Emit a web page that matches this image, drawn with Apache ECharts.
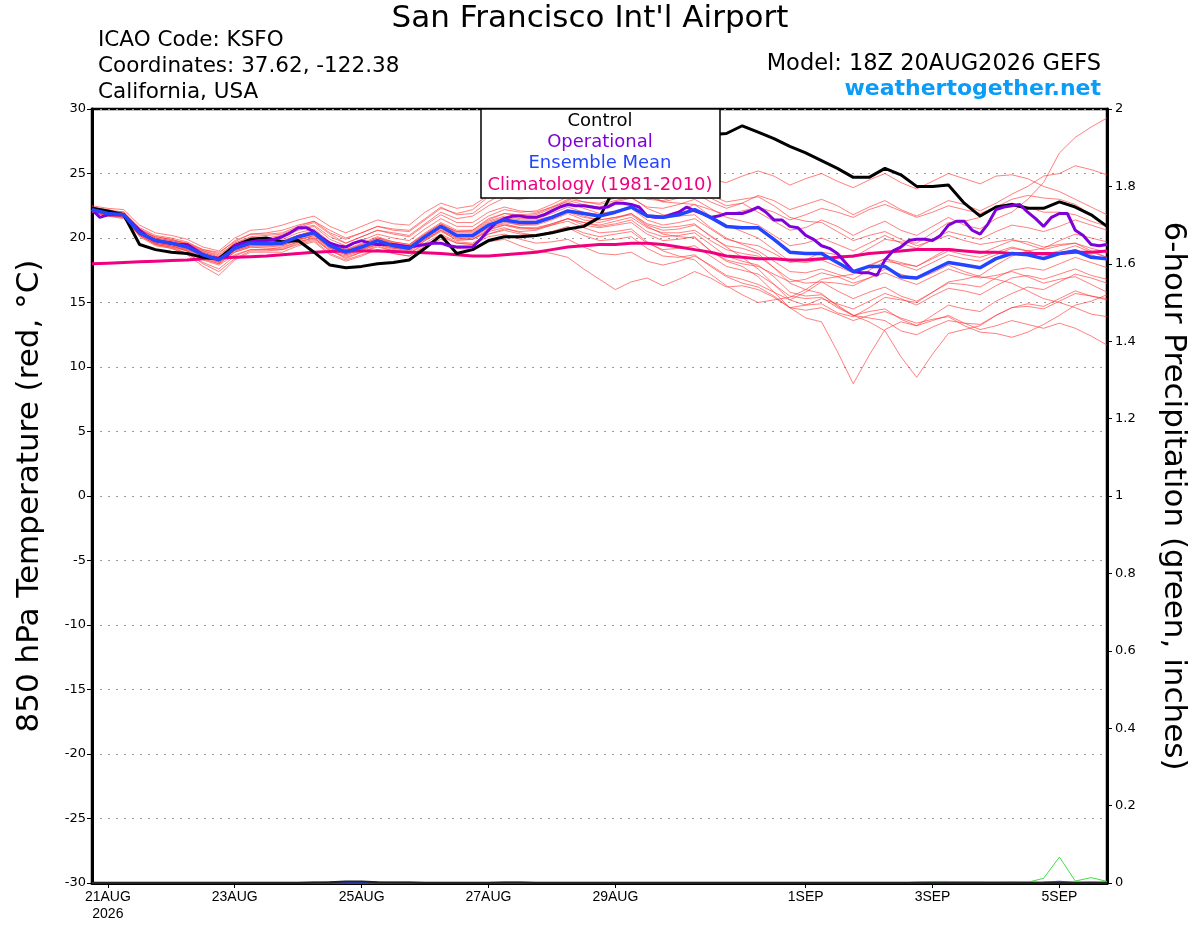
<!DOCTYPE html>
<html>
<head>
<meta charset="utf-8">
<script src="https://cdn.jsdelivr.net/npm/echarts@6/dist/echarts.min.js"></script>
<style>
html,body{margin:0;padding:0;background:#fff;}
#chart{width:1200px;height:927px;}
</style>
</head>
<body>
<div id="chart"></div>
<script>
// ---- time axis (hours after 18Z 20AUG2026) ----
const stepHours = 6;          // ensemble / control / mean step
const opStepHours = 3;        // operational step
const tickHours = [6, 54, 102, 150, 198, 270, 318, 366];
const tickLabels = ['21AUG\n2026', '23AUG', '25AUG', '27AUG', '29AUG', '1SEP', '3SEP', '5SEP'];

// ---- 850 hPa temperature (deg C) ----
const control = [22.3,22.1,21.8,19.5,19.1,18.9,18.8,18.5, 18.4,19.4,19.9,20.0,19.7,19.8,18.9,17.9,
  17.7,17.8,18.0,18.1,18.3,19.2,20.2,18.8, 19.1,19.8,20.1,20.1,20.2,20.4,20.7,20.9,
  21.6,24.0,25.5,26.5,27.2,27.6,27.8,28.0, 28.1,28.7,28.2,27.7,27.1,26.6,26.0,25.4,
  24.7,24.7,25.4,24.9,24.0,24.0,24.1,22.7, 21.7,22.4,22.6,22.3,22.3,22.8,22.4,21.8, 20.9];

const operational = [22.2,21.6,21.8,21.8,21.8,21.2,20.6,20.1,19.8,19.7,19.6,19.5,19.5,19.1,18.7,18.5,
  18.4,18.6,19.4,19.6,19.7,19.8,19.8,19.9,20.1,20.4,20.8,20.8,20.5,20.0,19.6,19.4,
  19.3,19.6,19.8,19.6,19.5,19.5,19.5,19.4,19.3,19.4,19.5,19.6,19.6,19.4,19.3,19.3,
  19.3,19.9,20.6,21.2,21.5,21.7,21.7,21.6,21.6,21.8,22.1,22.4,22.6,22.5,22.5,22.4,
  22.3,22.4,22.7,22.7,22.6,22.4,21.7,21.6,21.6,21.8,22.0,22.4,22.1,21.9,21.6,21.7,
  21.9,21.9,21.9,22.1,22.4,22.0,21.4,21.4,20.9,20.8,20.2,19.9,19.4,19.2,18.8,18.1,
  17.4,17.3,17.3,17.1,18.3,19.0,19.3,19.8,19.9,19.9,19.8,20.2,21.0,21.3,21.3,20.6,
  20.3,21.1,22.2,22.4,22.5,22.6,22.0,21.5,20.9,21.6,21.9,21.9,20.6,20.2,19.5,19.4, 19.5];

const ensembleMean = [22.2,21.9,21.8,20.4,19.8,19.6,19.3,18.7, 18.3,19.2,19.6,19.6,19.6,20.1,20.4,19.4,
  18.9,19.3,19.8,19.4,19.2,20.1,20.9,20.2, 20.2,21.0,21.4,21.2,21.2,21.6,22.1,21.9,
  21.7,22.0,22.4,21.7,21.6,21.8,22.2,21.6, 20.9,20.8,20.8,19.9,18.9,18.8,18.8,18.1,
  17.4,17.8,17.8,17.0,16.9,17.5,18.1,17.9, 17.7,18.4,18.8,18.7,18.4,18.8,19.0,18.5, 18.4];

const climatology = [18.0,18.05,18.1,18.15,18.2,18.25,18.3,18.4, 18.45,18.5,18.55,18.6,18.7,18.8,18.9,18.95,
  19.0,19.0,19.0,18.95,18.9,18.85,18.8,18.7, 18.6,18.6,18.7,18.8,18.9,19.1,19.3,19.4,
  19.5,19.5,19.6,19.6,19.5,19.3,19.1,18.9, 18.6,18.5,18.4,18.4,18.3,18.3,18.4,18.5,
  18.6,18.8,18.9,19.0,19.1,19.1,19.1,19.0, 18.9,18.9,18.8,18.8,18.8,18.8,18.9,18.9, 19.0];

const m01 = [22.4,22.2,22.0,20.6,20.1,19.9,19.5,19.0, 18.6,19.6,20.1,20.2,20.3,20.8,21.2,20.3, 19.6,20.1,20.6,20.4,20.2,21.1,22.0,21.5, 21.7,22.5,23.1,23.0,23.2,23.6,24.3,24.0, 23.8,24.1,24.5,23.8,23.3,23.6,24.0,23.1, 22.5,22.7,22.0,21.3,20.6,20.8,21.4,20.9, 20.2,20.8,21.3,20.6,20.2,20.9,21.6,21.0, 20.7,21.5,22.0,23.0,24.3,26.6,27.8,28.6, 29.3];
const m02 = [22.3,22.0,21.9,20.7,20.0,19.8,19.6,19.1, 18.9,19.7,20.3,20.4,20.6,21.0,21.3,20.6, 20.0,20.4,20.9,20.7,20.6,21.5,22.4,21.8, 21.9,22.8,23.5,23.3,23.1,23.9,24.6,24.2, 23.6,23.9,24.2,23.2,22.8,23.1,23.5,22.8, 22.3,22.7,23.3,22.9,22.2,22.6,23.0,22.5, 21.8,22.4,22.9,22.2,21.7,22.3,22.9,22.6, 22.1,22.7,23.4,24.0,24.8,25.0,25.6,25.3, 24.9];
const m03 = [22.5,22.3,22.2,21.0,20.4,20.2,19.9,19.3, 19.0,20.0,20.6,20.7,21.0,21.4,21.7,20.9, 20.4,20.9,21.4,21.1,21.0,22.0,22.7,22.3, 22.5,23.3,23.9,23.8,24.0,24.6,25.3,24.9, 24.6,24.9,25.2,24.4,24.1,24.6,25.1,24.5, 24.3,24.8,25.2,24.8,24.1,24.6,25.0,24.4, 23.9,24.5,25.0,24.3,23.8,24.4,25.0,24.6, 24.2,24.8,24.9,24.6,24.0,23.6,23.0,22.4, 21.8];
const m04 = [22.1,21.8,21.6,20.1,19.4,19.2,18.8,18.0, 17.4,18.4,19.0,19.0,19.1,19.5,19.8,18.8, 18.3,18.7,19.1,18.8,18.6,19.4,20.2,19.6, 19.5,20.3,20.7,20.5,20.6,21.0,21.5,21.0, 20.8,21.0,21.2,20.3,19.8,19.9,20.1,19.0, 18.2,17.8,17.0,15.8,14.6,13.8,13.5,11.2, 8.7,10.9,12.9,13.5,13.2,14.0,14.8,14.5, 14.3,15.1,15.7,16.2,16.0,16.6,17.2,16.9, 16.5];
const m05 = [22.2,21.9,21.7,20.3,19.6,19.4,19.0,18.4, 18.0,18.9,19.3,19.2,19.2,19.7,20.0,19.0, 18.6,19.0,19.5,19.2,19.0,19.8,20.6,19.8, 19.9,20.6,21.0,20.7,20.7,21.1,21.5,21.2, 20.9,21.1,21.4,20.5,20.1,20.2,20.4,19.5, 18.6,18.2,17.9,17.0,15.8,15.5,15.6,14.8, 14.0,13.5,12.8,10.8,9.2,11.0,12.6,12.9, 13.2,14.0,14.6,14.9,14.7,15.3,15.9,15.5, 15.3];
const m06 = [22.0,21.7,21.5,20.2,19.5,19.3,18.8,18.1, 17.6,18.6,19.1,19.1,19.3,19.7,20.0,19.1, 18.4,18.9,19.4,19.0,18.8,19.6,20.3,19.7, 19.6,20.3,20.6,20.3,20.2,20.5,20.9,20.4, 20.1,20.3,20.5,19.6,19.1,19.2,19.4,18.6, 17.8,17.5,17.2,16.4,15.5,15.3,15.4,14.6, 14.0,14.3,14.5,13.7,13.2,13.6,14.0,13.4, 12.9,13.2,13.6,13.3,13.0,13.4,13.0,12.4, 11.7];
const m07 = [22.3,22.0,21.8,20.5,19.7,19.5,19.1,18.6, 18.2,19.1,19.5,19.4,19.5,20.0,20.3,19.3, 18.8,19.2,19.6,19.2,19.1,19.9,20.7,20.0, 19.9,20.5,20.8,20.4,20.2,20.5,20.8,20.2, 19.8,19.9,20.1,19.2,18.6,18.5,18.7,17.8, 17.0,16.5,16.2,15.5,14.6,14.4,14.6,14.1, 13.6,14.0,14.3,13.8,13.4,13.7,13.9,13.2, 12.7,12.6,12.3,12.7,13.3,14.0,14.8,15.1, 15.6];
const m08 = [22.1,21.8,21.7,20.2,19.5,19.2,18.7,17.8, 17.1,18.3,18.9,18.9,18.9,19.4,19.7,18.7, 18.2,18.6,19.1,18.8,18.6,19.3,19.9,19.2, 19.1,19.7,19.9,19.4,19.0,18.8,18.5,17.6, 16.8,16.0,16.6,16.9,16.3,16.8,17.4,16.9, 16.2,16.3,16.0,15.4,14.6,14.8,15.3,14.9, 14.5,15.1,15.7,15.3,14.8,15.5,16.1,15.9, 15.6,16.3,16.9,17.1,16.8,17.2,17.6,17.1, 16.8];
const m09 = [22.2,22.0,21.9,20.6,20.0,19.8,19.5,18.9, 18.5,19.4,19.8,19.8,19.9,20.4,20.7,19.7, 19.1,19.6,20.1,19.7,19.5,20.4,21.2,20.6, 20.6,21.5,21.9,21.7,21.8,22.3,22.9,22.6, 22.4,22.8,23.1,22.4,22.3,22.6,23.0,22.3, 21.6,21.3,21.0,20.2,19.4,19.6,20.0,19.5, 19.0,19.6,20.2,19.6,19.2,19.9,20.5,20.2, 19.9,20.5,21.0,20.8,20.5,20.9,21.4,21.0, 20.6];
const m10 = [22.2,21.9,21.8,20.4,19.7,19.5,19.2,18.6, 18.1,19.0,19.4,19.4,19.4,19.9,20.1,19.2, 18.7,19.1,19.5,19.1,18.9,19.8,20.5,19.9, 19.9,20.7,21.0,20.8,20.8,21.1,21.5,21.2, 21.0,21.3,21.6,20.8,20.4,20.4,20.6,19.8, 19.1,18.8,18.6,17.7,16.8,16.5,16.6,15.9, 15.3,15.8,16.2,15.5,15.1,15.8,16.5,16.4, 16.2,16.9,17.5,17.7,17.5,18.0,18.5,18.1, 17.7];
const m11 = [22.4,22.1,22.0,20.8,20.2,20.0,19.7,19.1, 18.8,19.8,20.3,20.3,20.4,20.9,21.3,20.4, 19.9,20.4,20.9,20.6,20.5,21.4,22.3,21.9, 22.2,23.2,23.8,23.7,23.8,24.4,25.0,24.7, 24.2,24.4,24.6,23.5,22.8,22.7,22.6,21.7, 21.0,20.5,20.0,19.1,18.2,18.1,18.3,17.8, 17.3,17.9,18.4,17.9,17.5,18.1,18.7,18.4, 18.2,18.7,19.2,19.0,18.7,19.0,19.4,18.9, 18.5];
const m12 = [22.3,22.0,21.9,20.5,19.8,19.7,19.3,18.8, 18.4,19.3,19.7,19.7,19.8,20.2,20.5,19.5, 19.0,19.4,19.9,19.6,19.4,20.3,21.1,20.4, 20.4,21.2,21.6,21.4,21.4,21.7,22.1,21.7, 21.4,21.6,21.9,21.0,20.6,20.7,21.0,20.2, 19.3,18.5,17.6,16.4,15.2,14.8,14.9,14.2, 13.9,14.6,15.4,15.2,15.0,15.8,16.6,16.8, 17.1,17.9,18.6,19.0,19.2,19.8,20.3,20.0, 19.7];
const m13 = [22.0,21.8,21.6,20.3,19.6,19.4,19.0,18.4, 18.0,18.9,19.3,19.3,19.4,19.8,20.2,19.3, 18.8,19.2,19.6,19.3,19.2,20.0,20.8,20.2, 20.1,20.9,21.3,21.0,21.0,21.4,21.9,21.4, 21.2,21.5,21.9,21.1,20.8,20.9,21.1,20.1, 19.4,19.2,18.8,17.7,16.5,16.0,15.7,14.7, 14.0,13.8,13.6,12.8,12.5,13.1,13.6,13.4, 13.3,14.0,14.6,14.7,14.5,15.1,15.7,15.5, 15.2];
const m14 = [22.3,22.1,22.0,20.7,20.1,19.9,19.6,19.0, 18.7,19.6,20.0,20.0,20.2,20.7,21.0,20.1, 19.6,20.1,20.6,20.3,20.1,21.0,21.8,21.2, 21.2,22.0,22.4,22.1,22.0,22.4,22.8,22.3, 21.9,22.1,22.4,21.8,21.7,22.1,22.6,22.2, 21.8,22.1,22.4,22.0,21.4,21.8,22.3,22.0, 21.6,22.2,22.6,22.1,21.6,22.0,22.5,22.2, 21.9,22.4,22.7,22.4,22.0,22.0,21.8,21.3, 20.9];
const m15 = [22.1,21.8,21.7,20.3,19.6,19.4,19.1,18.5, 18.1,19.0,19.4,19.4,19.5,19.9,20.2,19.2, 18.7,19.1,19.6,19.3,19.1,19.9,20.6,20.0, 20.0,20.8,21.2,21.0,21.1,21.5,22.0,21.6, 21.4,21.6,21.8,20.9,20.3,20.1,20.0,19.0, 18.3,18.0,17.8,17.2,16.6,16.8,17.3,17.0, 16.5,16.9,17.3,16.8,16.4,17.0,17.6,17.2, 16.9,17.1,17.4,17.0,16.5,16.8,17.0,16.4, 15.8];
const m16 = [22.2,21.9,21.8,20.4,19.8,19.6,19.3,18.8, 18.4,19.3,19.7,19.7,19.7,20.2,20.6,19.6, 19.1,19.5,20.0,19.7,19.5,20.3,21.1,20.5, 20.5,21.3,21.7,21.5,21.5,21.9,22.4,22.0, 21.8,22.0,22.3,21.4,21.0,21.2,21.5,20.7, 19.9,19.6,19.4,18.8,18.1,18.3,18.9,18.7, 18.5,19.2,19.9,19.7,19.6,20.4,21.2,21.3, 21.6,22.4,23.0,23.3,23.1,23.0,22.6,21.8, 21.0];
const m17 = [22.0,21.7,21.6,20.2,19.5,19.3,19.0,18.3, 17.9,18.7,19.1,19.1,19.1,19.6,19.9,19.0, 18.5,18.9,19.3,19.0,18.8,19.5,20.1,19.6, 19.5,20.1,20.3,19.9,19.6,19.7,19.9,19.3, 18.8,18.7,18.9,18.2,17.9,18.2,18.6,17.9, 17.1,16.8,16.4,15.8,15.2,15.8,16.6,16.5, 16.3,16.9,17.6,17.2,16.8,17.3,17.9,17.4, 17.0,16.8,16.5,15.9,15.3,15.0,14.6,14.1, 13.9];
const m18 = [22.4,22.1,21.9,20.5,19.9,19.7,19.4,18.9, 18.5,19.5,19.9,19.9,20.1,20.6,20.9,19.9, 19.4,19.8,20.3,20.0,19.8,20.7,21.5,20.9, 20.9,21.7,22.2,22.0,22.1,22.6,23.2,22.8, 22.6,22.9,23.2,22.3,21.8,21.7,21.8,20.8, 20.0,19.5,19.0,18.2,17.4,17.3,17.6,17.2, 16.8,17.5,18.2,18.0,17.8,18.5,19.2,19.0, 18.8,19.3,19.8,19.7,19.3,19.5,19.6,19.0, 18.5];
const m19 = [22.2,21.9,21.7,20.3,19.7,19.5,19.2,18.6, 18.2,19.1,19.5,19.5,19.6,20.1,20.4,19.4, 18.9,19.3,19.8,19.5,19.3,20.1,20.8,20.1, 20.1,20.8,21.1,20.8,20.7,21.0,21.3,20.8, 20.4,20.5,20.7,19.7,19.0,18.6,18.3,17.2, 16.3,15.6,15.0,15.2,15.4,16.0,16.8,17.0, 17.2,17.8,18.4,18.1,17.8,18.4,19.0,18.7, 18.5,18.9,19.3,19.0,18.6,18.8,19.1,18.7, 18.3];
const m20 = [22.3,22.0,21.8,20.5,19.9,19.7,19.4,18.8, 18.3,19.2,19.6,19.6,19.7,20.2,20.5,19.5, 19.0,19.5,20.0,19.6,19.4,20.2,21.0,20.5, 20.6,21.4,21.9,21.8,21.9,22.4,23.0,22.8, 22.7,23.1,23.6,23.0,22.9,23.3,23.8,23.3, 22.8,23.0,23.2,22.5,21.6,21.3,21.2,20.5, 19.8,20.2,20.5,19.9,19.4,19.8,20.2,19.8, 19.5,19.7,19.9,19.5,19.1,19.4,19.6,19.2, 18.9];
const members = [m01,m02,m03,m04,m05,m06,m07,m08,m09,m10,m11,m12,m13,m14,m15,m16,m17,m18,m19,m20];

// ---- 6-hour precipitation (inches) ----
const precipMemberA = [0,0,0,0,0,0,0,0, 0,0,0,0,0,0,0,0, 0,0,0,0,0,0,0,0, 0,0,0,0,0,0,0,0,
  0,0,0,0,0,0,0,0, 0,0,0,0,0,0,0,0, 0,0,0,0,0,0,0,0, 0,0.002,0.003,0.002,0.012,0.067,0.005,0.014, 0.004];
const precipMemberB = [0,0,0,0,0,0,0,0, 0,0,0,0,0,0,0,0, 0,0,0,0,0,0,0,0, 0,0,0,0,0,0,0,0.001,
  0,0,0,0,0,0,0,0, 0,0,0,0,0,0,0.001,0, 0,0,0.001,0.001,0.002,0.004,0.004,0.003, 0.003,0.002,0.003,0.002,0.001,0.002,0.001,0.001, 0];
const precipControl = [0,0,0,0,0,0,0,0, 0,0,0,0,0,0,0.001,0.002, 0.004,0.004,0.002,0.001,0.001,0,0,0, 0,0,0.001,0.001,0,0,0,0,
  0,0,0,0,0,0,0,0, 0,0,0,0,0,0,0,0, 0,0,0,0,0,0,0,0, 0,0,0,0,0,0,0,0, 0];
const precipMean = [0,0,0,0,0,0,0,0, 0,0,0,0,0,0,0,0.001, 0.001,0.001,0.001,0,0,0,0,0, 0,0,0,0,0,0,0,0,
  0,0,0,0,0,0,0,0, 0,0,0,0,0,0,0,0, 0,0,0,0,0.001,0.001,0.001,0.001, 0.001,0.001,0.001,0.001,0.002,0.004,0.001,0.002, 0.001];

// ---------------------------------------------------------------
const FONT = '"DejaVu Sans", "Liberation Sans", Arial, sans-serif';
const chart = echarts.init(document.getElementById('chart'), null, {renderer: 'canvas'});

function toPairs(arr, step) { return arr.map((v, i) => [i * step, v]); }
function lineSeries(arr, step, color, width, yIdx, z) {
  return {
    type: 'line', data: toPairs(arr, step), yAxisIndex: yIdx || 0,
    showSymbol: false, symbol: 'none', silent: true, clip: true,
    lineStyle: {color: color, width: width}, z: z || 2, animation: false
  };
}

const series = [];
members.forEach(m => series.push(lineSeries(m, stepHours, 'rgba(255,50,50,0.62)', 1, 0, 2)));
series.push(lineSeries(precipMemberB, stepHours, '#40d040', 1, 1, 2));
series.push(lineSeries(precipMemberA, stepHours, '#40e040', 1, 1, 2));
series.push(lineSeries(precipMean, stepHours, '#2040ff', 1.5, 1, 2));
series.push(lineSeries(precipControl, stepHours, '#222', 2, 1, 2));
series.push(lineSeries(climatology, stepHours, '#f0007f', 3, 0, 3));
series.push(lineSeries(control, stepHours, '#000000', 3, 0, 3));
series.push(lineSeries(operational, opStepHours, '#7f00d8', 3, 0, 3));
series.push(lineSeries(ensembleMean, stepHours, '#2445ff', 3.5, 0, 3));

const labelMap = {};
tickHours.forEach((h, i) => labelMap[h] = tickLabels[i]);

const option = {
  backgroundColor: '#ffffff',
  animation: false,
  grid: {left: 92, right: 93, top: 109, bottom: 44, show: true, borderColor: '#000', borderWidth: 2.5, backgroundColor: 'transparent'},
  xAxis: {
    type: 'value', min: 0, max: 384,
    axisLine: {show: true, onZero: false, lineStyle: {color: '#000', width: 3}},
    axisTick: {show: true, customValues: tickHours, length: 5, lineStyle: {color: '#000', width: 1}},
    axisLabel: {customValues: tickHours, formatter: v => labelMap[v] || '', color: '#000', fontSize: 14, fontFamily: '"Liberation Sans", Arial, sans-serif', margin: 6, lineHeight: 17},
    splitLine: {show: false}
  },
  yAxis: [
    {
      type: 'value', min: -30, max: 30, interval: 5, position: 'left',
      axisLine: {show: true, lineStyle: {color: '#000', width: 3}},
      axisTick: {show: true, length: 5, lineStyle: {color: '#000'}},
      axisLabel: {color: '#000', fontSize: 13, fontFamily: FONT, margin: 6},
      splitLine: {show: true, lineStyle: {color: '#9a9a9a', type: [2, 6], width: 1}}
    },
    {
      type: 'value', min: 0, max: 2, interval: 0.2, position: 'right',
      axisLine: {show: true, lineStyle: {color: '#000', width: 3}},
      axisTick: {show: true, length: 5, lineStyle: {color: '#000'}},
      axisLabel: {color: '#000', fontSize: 13, fontFamily: FONT, margin: 8, formatter: v => String(Math.round(v * 10) / 10)},
      splitLine: {show: false}
    }
  ],
  graphic: [
    {type: 'text', z: 100, x: 590, y: 19, style: {text: "San Francisco Int'l Airport", font: '31px ' + FONT, fill: '#000', align: 'center', verticalAlign: 'middle'}},
    {type: 'text', z: 100, x: 98, y: 40, style: {text: 'ICAO Code: KSFO', font: '21.5px ' + FONT, fill: '#000', verticalAlign: 'middle'}},
    {type: 'text', z: 100, x: 98, y: 66, style: {text: 'Coordinates: 37.62, -122.38', font: '21.5px ' + FONT, fill: '#000', verticalAlign: 'middle'}},
    {type: 'text', z: 100, x: 98, y: 92, style: {text: 'California, USA', font: '21.5px ' + FONT, fill: '#000', verticalAlign: 'middle'}},
    {type: 'text', z: 100, x: 1101, y: 64, style: {text: 'Model: 18Z 20AUG2026 GEFS', font: '22.5px ' + FONT, fill: '#000', align: 'right', verticalAlign: 'middle'}},
    {type: 'text', z: 100, x: 1101, y: 89, style: {text: 'weathertogether.net', font: 'bold 22px ' + FONT, fill: '#0a9cf7', align: 'right', verticalAlign: 'middle'}},
    {type: 'rect', z: 100, shape: {x: 481, y: 109, width: 239, height: 89}, style: {fill: '#fff', stroke: '#000', lineWidth: 1.5}},
    {type: 'text', z: 101, x: 600, y: 121, style: {text: 'Control', font: '18px ' + FONT, fill: '#000', align: 'center', verticalAlign: 'middle'}},
    {type: 'text', z: 101, x: 600, y: 142, style: {text: 'Operational', font: '18px ' + FONT, fill: '#7f00d8', align: 'center', verticalAlign: 'middle'}},
    {type: 'text', z: 101, x: 600, y: 163, style: {text: 'Ensemble Mean', font: '18px ' + FONT, fill: '#2445ff', align: 'center', verticalAlign: 'middle'}},
    {type: 'text', z: 101, x: 600, y: 185, style: {text: 'Climatology (1981-2010)', font: '18px ' + FONT, fill: '#f0007f', align: 'center', verticalAlign: 'middle'}},
    {type: 'text', z: 100, x: 30, y: 496, rotation: Math.PI / 2, style: {text: '850 hPa Temperature (red, °C)', font: '31px ' + FONT, fill: '#000', align: 'center', verticalAlign: 'middle'}},
    {type: 'text', z: 100, x: 1173, y: 496, rotation: -Math.PI / 2, style: {text: '6-hour Precipitation (green, inches)', font: '31px ' + FONT, fill: '#000', align: 'center', verticalAlign: 'middle'}}
  ],
  series: series
};
chart.setOption(option);
</script>
</body>
</html>
